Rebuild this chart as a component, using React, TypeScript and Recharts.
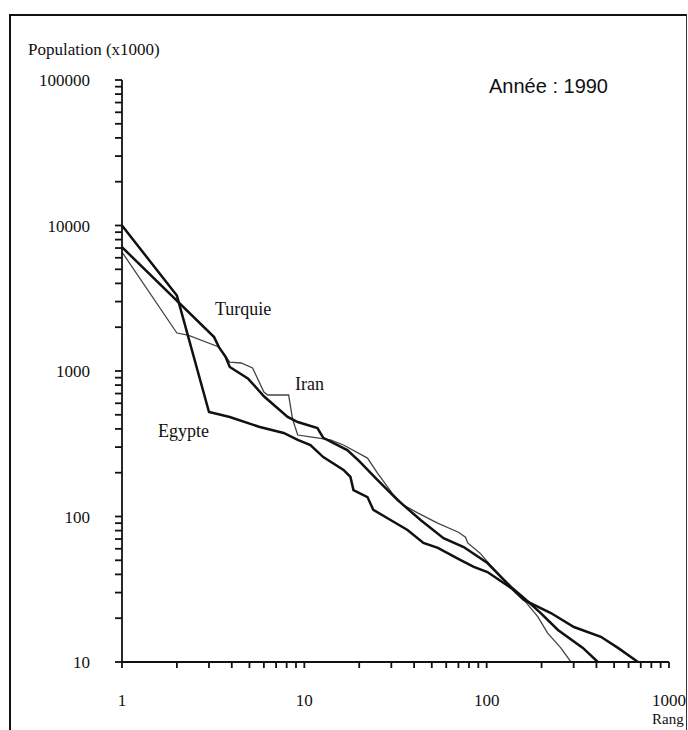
import React from 'react';
import { LineChart, Line, XAxis, YAxis } from 'recharts';

// rank / population (x1000)
const egypteRank = [1, 2, 3, 3.9, 5.7, 7.7, 9.2, 10.8, 12.7, 16.4, 17.9, 18.6, 22.2, 23.9, 29.7, 36.8, 45, 54, 72, 85, 101, 136, 160, 225, 301, 423, 525, 676];
const egyptePop = [10000, 3300, 523, 483, 412, 375, 336, 310, 256, 209, 187, 152, 136, 111, 94.6, 80.8, 65.8, 60.8, 50.2, 45, 41.5, 32.3, 26.7, 21.7, 17.4, 14.9, 12.5, 10];

const turquieRank = [1, 3.2, 3.4, 3.7, 3.9, 4.9, 6, 8.1, 9.2, 11.8, 12.7, 17.2, 20, 25, 32.4, 43.4, 58, 74.8, 101, 136, 160, 198, 246, 337, 407];
const turquiePop = [7100, 1710, 1460, 1250, 1065, 890, 670, 483, 446, 405, 347, 286, 240, 180, 130, 94.6, 71, 61.7, 47.9, 32.8, 27.6, 21.7, 16.6, 12.5, 10];

const iranRank = [1, 2, 2.3, 3.4, 3.9, 4.5, 5.2, 6, 6.3, 8.2, 8.6, 8.9, 9.2, 10.8, 13.9, 16.4, 22.2, 25.2, 30.8, 35, 41.8, 53.8, 70, 76.6, 78.7, 92, 119, 160, 191, 216, 255, 290];
const iranPop = [6570, 1824, 1767, 1463, 1150, 1135, 1049, 717, 684, 684, 475, 412, 363, 352, 336, 310, 252, 199, 141, 120, 106, 90, 78, 72, 65.8, 56, 38.4, 26.7, 20.4, 15.8, 12.5, 10];

const xMajor = [1, 10, 100, 1000];
const yMajor = [10, 100, 1000, 10000, 100000];
const minorSteps = [2, 3, 4, 5, 6, 7, 8, 9];

const toRows = (ranks: number[], pops: number[]) => ranks.map((r, i) => ({ rank: r, pop: pops[i] }));

const withMinors = (majors: number[]) => {
  const out: number[] = [];
  majors.forEach((m, i) => {
    out.push(m);
    if (i < majors.length - 1) minorSteps.forEach((s) => out.push(m * s));
  });
  return out;
};

const xTicks = withMinors(xMajor);
const yTicks = withMinors(yMajor);

const serif = '"Liberation Serif", "DejaVu Serif", serif';
const sans = '"Liberation Sans", Arial, sans-serif';

const label = (left: number, top: number, size: number, family: string): React.CSSProperties => ({
  position: 'absolute',
  left,
  top,
  fontSize: size,
  lineHeight: `${size + 1}px`,
  fontFamily: family,
  color: '#111',
  whiteSpace: 'nowrap',
});

export default function App() {
  return (
    <div style={{ position: 'relative', width: 688, height: 730, background: '#fff', overflow: 'hidden' }}>
      <style>{'body{margin:0;overflow:hidden}'}</style>
      <div
        style={{
          position: 'absolute',
          left: 9,
          top: 14,
          width: 675,
          height: 716,
          borderLeft: '2px solid #111',
          borderTop: '2px solid #111',
          borderRight: '1px solid #333',
        }}
      />
      <div style={{ position: 'absolute', left: 8, top: 8 }}>
        <LineChart width={680} height={712} margin={{ top: 72, right: 19, bottom: 18, left: 54 }}>
          <XAxis
            type="number"
            dataKey="rank"
            scale="log"
            domain={[1, 1000]}
            ticks={xTicks}
            interval={0}
            allowDataOverflow
            tickSize={6}
            tickMargin={26}
            height={40}
            stroke="#111"
            strokeWidth={1.8}
            tickFormatter={(v: number) => (xMajor.includes(v) ? String(v) : '')}
            tick={{ fontFamily: serif, fontSize: 17, fill: '#111' }}
          />
          <YAxis
            type="number"
            dataKey="pop"
            scale="log"
            domain={[10, 100000]}
            ticks={yTicks}
            interval={0}
            allowDataOverflow
            width={60}
            tickSize={7}
            tickMargin={25}
            stroke="#111"
            strokeWidth={1.8}
            tickFormatter={(v: number) => (yMajor.includes(v) ? String(v) : '')}
            tick={{ fontFamily: serif, fontSize: 17, fill: '#111' }}
          />
          <Line
            data={toRows(iranRank, iranPop)}
            dataKey="pop"
            type="linear"
            stroke="#444"
            strokeWidth={1.3}
            dot={false}
            isAnimationActive={false}
          />
          <Line
            data={toRows(turquieRank, turquiePop)}
            dataKey="pop"
            type="linear"
            stroke="#111"
            strokeWidth={2.5}
            dot={false}
            isAnimationActive={false}
          />
          <Line
            data={toRows(egypteRank, egyptePop)}
            dataKey="pop"
            type="linear"
            stroke="#111"
            strokeWidth={2.5}
            dot={false}
            isAnimationActive={false}
          />
        </LineChart>
      </div>
      <span style={label(28, 41, 17, serif)}>Population (x1000)</span>
      <span style={label(489, 76, 20, sans)}>Année : 1990</span>
      <span style={label(215, 300, 18, serif)}>Turquie</span>
      <span style={label(295, 375, 18, serif)}>Iran</span>
      <span style={label(158, 422, 18, serif)}>Egypte</span>
      <span style={label(652, 711, 15, serif)}>Rang</span>
    </div>
  );
}
